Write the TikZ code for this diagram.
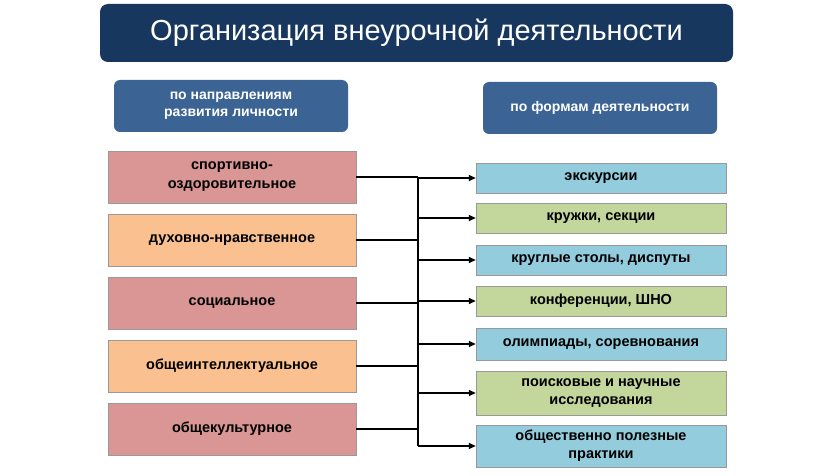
\documentclass[tikz,border=0pt]{standalone}
\usepackage{fontspec}
\setmainfont{Liberation Sans}
\usetikzlibrary{arrows.meta,calc}
\definecolor{navy}{HTML}{17375E}
\definecolor{steel}{HTML}{3B6394}
\definecolor{rose}{HTML}{D99694}
\definecolor{peach}{HTML}{FAC08F}
\definecolor{sky}{HTML}{93CDDD}
\definecolor{leaf}{HTML}{C3D69B}
\tikzset{hd/.style={rounded corners=6pt,fill=steel,text=white,font=\fontsize{14}{17}\selectfont\bfseries,align=center,minimum width=234pt,minimum height=52pt,inner sep=0pt}}
\tikzset{lb/.style={draw=gray!80,fill=#1,font=\fontsize{14.5}{19}\selectfont\bfseries,align=center,minimum width=248pt,minimum height=52pt,inner sep=0pt}}
\tikzset{rb/.style={draw=gray!80,fill=#1,font=\fontsize{14.5}{18}\selectfont\bfseries,align=center,minimum width=250pt,inner sep=0pt}}
\tikzset{ar/.style={-{Triangle[length=7pt,width=6pt]},line width=1.8pt}}
\begin{document}
\begin{tikzpicture}[x=1pt,y=-1pt]
  \useasboundingbox (0,0) rectangle (836,476);
  \node [rounded corners=8pt,fill=navy,text=white,font=\fontsize{29}{32}\selectfont,minimum width=633pt,minimum height=58pt] (title) at (416.5,33) {Организация внеурочной деятельности};
  \node [hd] (hl) at (231,106) {по направлениям\\развития личности};
  \node [hd] (hr) at (600,108) {по формам деятельности};
  % left column
  \node [lb=rose]  (l1) at (232,177) {спортивно-\\оздоровительное};
  \node [lb=peach] (l2) at (232,240) {духовно-нравственное};
  \node [lb=rose]  (l3) at (232,303) {социальное};
  \node [lb=peach] (l4) at (232,366) {общеинтеллектуальное};
  \node [lb=rose]  (l5) at (232,429) {общекультурное};
  % right column
  \node [rb=sky,minimum height=30pt]  (r1) at (601,178) {экскурсии};
  \node [rb=leaf,minimum height=30pt] (r2) at (601,218) {кружки, секции};
  \node [rb=sky,minimum height=30pt]  (r3) at (601,260) {круглые столы, диспуты};
  \node [rb=leaf,minimum height=30pt] (r4) at (601,301) {конференции, ШНО};
  \node [rb=sky,minimum height=32pt]  (r5) at (601,344) {олимпиады, соревнования};
  \node [rb=leaf,minimum height=44pt] (r6) at (601,393) {поисковые и научные\\исследования};
  \node [rb=sky,minimum height=42pt]  (r7) at (601,446) {общественно полезные\\практики};
  % bus
  \coordinate (top) at (418,177);
  \coordinate (bot) at (418,446);
  \draw [line width=1.8pt] (top) -- (bot);
  \foreach \i in {1,...,5}
    \draw [line width=1.8pt] (l\i.east) -- (l\i.east -| top);
  \foreach \i in {1,...,7}
    \draw [ar] (r\i.west -| top) -- (r\i.west);
\end{tikzpicture}
\end{document}
